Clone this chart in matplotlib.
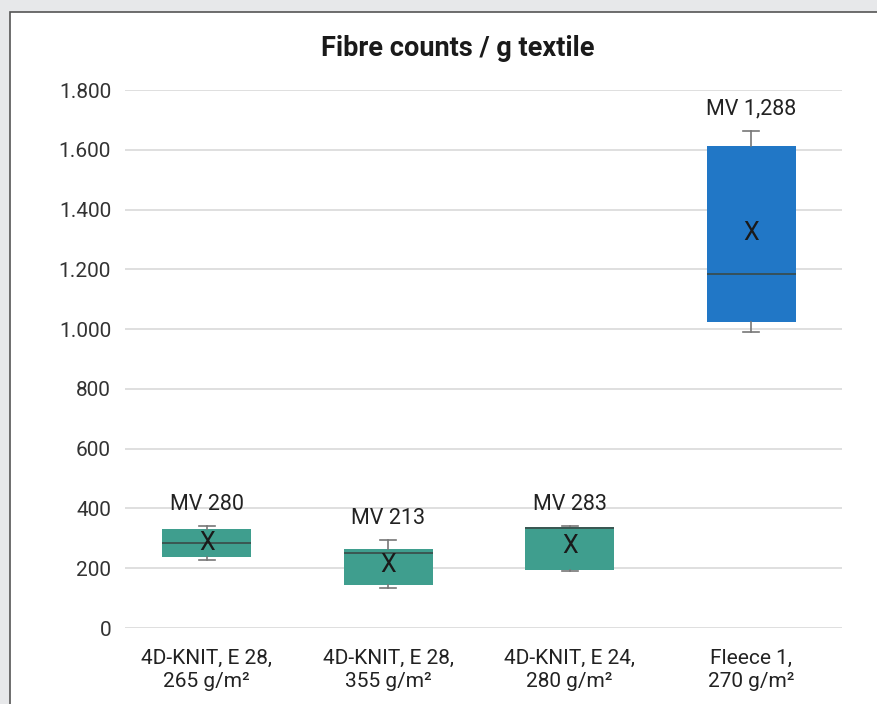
import matplotlib.pyplot as plt
from matplotlib.patches import Rectangle
from matplotlib.ticker import FuncFormatter

# data
labels = ['4D-KNIT, E 28,\n265 g/m²', '4D-KNIT, E 28,\n355 g/m²',
          '4D-KNIT, E 24,\n280 g/m²', 'Fleece 1,\n270 g/m²']
whis_lo = [227, 134, 191, 990]
q1 = [237, 144, 194, 1024]
med = [284, 251, 335, 1184]
q3 = [331, 264, 338, 1613]
whis_hi = [341, 294, 341, 1663]
means = [284, 211, 274, 1321]
mv_text = ['MV 280', 'MV 213', 'MV 283', 'MV 1,288']
colors = ['#3f9e8e', '#3f9e8e', '#3f9e8e', '#2177c6']

plt.rcParams['font.family'] = ['Roboto', 'DejaVu Sans']

fig = plt.figure(figsize=(8.77, 7.04), dpi=100)
fig.patch.set_facecolor('#e7e8ea')
# white panel with border, behind the axes
fig.patches.append(Rectangle((10 / 877, -0.01), 1.0, 1 - 12 / 704 + 0.01,
                             transform=fig.transFigure, facecolor='white',
                             edgecolor='#555555', linewidth=1.2, zorder=-10))

ax = fig.add_axes([125 / 877, 1 - 628 / 704, 717 / 877, 538 / 704])
ax.set_facecolor('none')

stats = []
for i in range(len(labels)):
    stats.append({'whislo': whis_lo[i], 'q1': q1[i], 'med': med[i],
                  'q3': q3[i], 'whishi': whis_hi[i], 'mean': means[i],
                  'fliers': []})

positions = list(range(len(labels)))
bp = ax.bxp(stats, positions=positions, widths=0.49, patch_artist=True,
            showfliers=False, showcaps=True,
            boxprops=dict(linewidth=0),
            medianprops=dict(color='#3a4a48', linewidth=1.2),
            whiskerprops=dict(color='#777777', linewidth=1.2),
            capprops=dict(color='#777777', linewidth=1.2),
            capwidths=0.09)
for patch, c in zip(bp['boxes'], colors):
    patch.set_facecolor(c)
    patch.set_edgecolor(c)

for i in positions:
    ax.text(i, means[i], 'X', ha='center', va='center', fontsize=18,
            color='#1a1a1a')
    ax.text(i, whis_hi[i] + 38, mv_text[i], ha='center', va='bottom',
            fontsize=15.5, color='#222222')

ax.set_xlim(-0.45, 3.5)
ax.set_ylim(0, 1800)
ax.set_yticks(range(0, 1801, 200))
ax.yaxis.set_major_formatter(FuncFormatter(lambda v, p: f'{int(v):,}'.replace(',', '.')))
ax.set_xticks(positions)
ax.set_xticklabels(labels, fontsize=15, color='#222222', linespacing=1.25)
ax.tick_params(axis='y', labelsize=15, labelcolor='#333333', length=0, pad=10)
ax.tick_params(axis='x', length=0, pad=15)
ax.grid(axis='y', color='#d9d9d9', linewidth=1.2)
ax.set_axisbelow(True)
for s in ax.spines.values():
    s.set_visible(False)

fig.text(458 / 877, 1 - 48 / 704, 'Fibre counts / g textile', ha='center',
         va='center', fontsize=19.5, fontweight='bold', color='#1a1a1a')

fig.savefig('out.png', dpi=100, facecolor=fig.get_facecolor())
